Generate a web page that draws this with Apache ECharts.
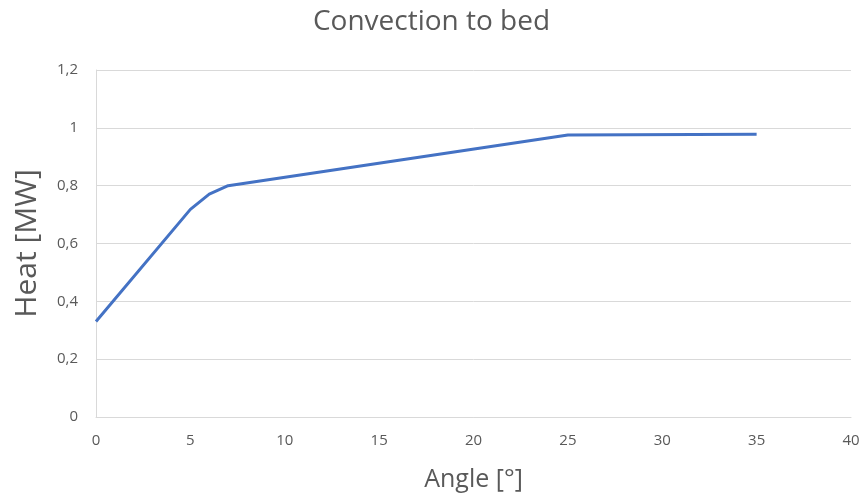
<!DOCTYPE html>
<html><head><meta charset="utf-8">
<script src="https://cdn.jsdelivr.net/npm/echarts@6/dist/echarts.min.js"></script>
<style>html,body{margin:0;padding:0;background:#fff}#c{width:863px;height:496px}</style>
</head><body><div id="c"></div>
<script>
const angles = [0, 5, 6, 7, 25, 35];
const heat = [0.33, 0.718, 0.771, 0.80, 0.975, 0.978];
const title = 'Convection to bed';
const xName = 'Angle [°]';
const yName = 'Heat [MW]';
const fmt = v => String(Math.round(v*10)/10).replace('.', ',');
const chart = echarts.init(document.getElementById('c'));
const ff = '"Open Sans", sans-serif';
chart.setOption({
  animation: false,
  title: {text: title, left: 'center', top: 3, textStyle: {fontFamily: ff, fontSize: 28, fontWeight: 'normal', color: '#595959'}},
  grid: {left: 96, right: 12, top: 70, bottom: 79, containLabel: false, outerBoundsMode: 'none'},
  xAxis: {type: 'value', min: 0, max: 40, interval: 5,
    name: xName, nameLocation: 'middle', nameGap: 50,
    nameTextStyle: {fontFamily: ff, fontSize: 25, color: '#595959'},
    axisLine: {show: true, lineStyle: {color: '#d9d9d9', width: 1}},
    axisTick: {show: false}, splitLine: {show: false},
    axisLabel: {fontFamily: ff, fontSize: 15, color: '#595959', margin: 16}},
  yAxis: {type: 'value', min: 0, max: 1.2, interval: 0.2,
    name: yName, nameLocation: 'middle', nameGap: 54,
    nameTextStyle: {fontFamily: ff, fontSize: 30, color: '#595959'},
    axisLine: {show: true, lineStyle: {color: '#d9d9d9', width: 1}},
    axisTick: {show: false},
    splitLine: {lineStyle: {color: '#d9d9d9', width: 1}},
    axisLabel: {fontFamily: ff, fontSize: 15, color: '#595959', margin: 18, formatter: fmt}},
  series: [{type: 'line', data: angles.map((a, i) => [a, heat[i]]), showSymbol: false,
    lineStyle: {color: '#4472c4', width: 3}, itemStyle: {color: '#4472c4'}}]
});
</script></body></html>
